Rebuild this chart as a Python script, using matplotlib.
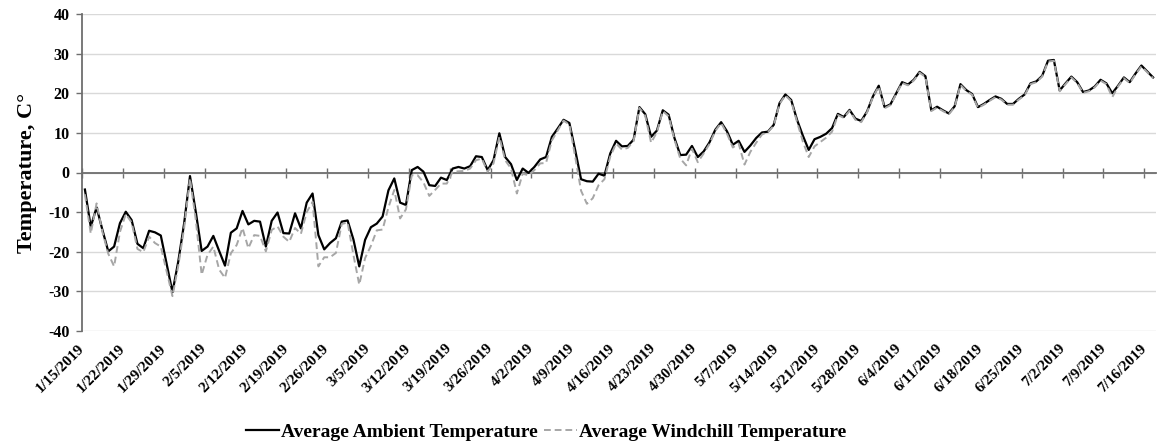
import datetime as dt
import matplotlib
matplotlib.use("Agg")
import matplotlib.pyplot as plt

plt.rcParams['font.family'] = ['Liberation Serif', 'DejaVu Serif']
plt.rcParams['font.weight'] = 'bold'

start_date = dt.date(2019, 1, 15)

ambient = [
    -4.3, -13.7, -8.8, -14.5, -19.9, -18.7, -12.8, -9.9, -12.0, -18.0,
    -19.1, -14.7, -15.1, -15.9, -23.0, -30.2, -22.4, -12.8, -0.9, -10.0,
    -19.8, -18.7, -16.0, -19.8, -23.5, -15.2, -14.1, -9.7, -13.1, -12.2,
    -12.4, -18.7, -12.2, -10.1, -15.3, -15.4, -10.3, -14.1, -7.6, -5.3,
    -15.8, -19.4, -17.8, -16.6, -12.4, -12.1, -16.9, -23.7, -17.0, -13.8,
    -12.9, -11.1, -4.5, -1.5, -7.6, -8.2, 0.6, 1.4, 0.2, -3.2,
    -3.4, -1.3, -1.9, 1.0, 1.4, 1.0, 1.6, 4.1, 3.9, 0.6,
    3.1, 9.9, 3.9, 2.1, -1.9, 1.0, -0.1, 1.4, 3.3, 3.9,
    9.0, 11.1, 13.3, 12.5, 5.6, -1.7, -2.2, -2.3, -0.3, -0.8,
    4.8, 8.0, 6.6, 6.7, 8.3, 16.5, 14.7, 9.0, 10.6, 15.7,
    14.6, 8.7, 4.4, 4.5, 6.7, 3.9, 5.3, 7.6, 10.8, 12.7,
    10.4, 7.0, 8.0, 5.2, 6.8, 8.7, 10.1, 10.3, 12.0, 17.5,
    19.7, 18.3, 13.3, 9.3, 5.7, 8.4, 9.0, 9.8, 11.2, 14.8,
    14.0, 15.8, 13.6, 13.0, 15.4, 19.2, 21.9, 16.5, 17.2, 20.0,
    22.8, 22.2, 23.4, 25.4, 24.3, 15.7, 16.6, 15.7, 14.9, 16.7,
    22.3, 20.8, 19.8, 16.5, 17.3, 18.3, 19.2, 18.6, 17.3, 17.3,
    18.6, 19.7, 22.5, 23.0, 24.4, 28.2, 28.4, 20.7, 22.5, 24.2,
    22.8, 20.3, 20.7, 21.7, 23.4, 22.5, 20.0, 21.9, 24.0, 22.8,
    25.0, 27.0, 25.5, 24.0,
]

windchill = [
    -5.5, -15.4, -7.8, -15.0, -20.5, -23.7, -15.0, -10.5, -12.6, -19.3,
    -20.1, -16.2, -17.8, -18.7, -25.0, -31.2, -23.5, -14.0, -1.5, -12.0,
    -25.8, -20.8, -18.7, -24.5, -26.6, -20.4, -18.3, -14.0, -19.1, -15.8,
    -16.0, -19.9, -14.5, -13.6, -16.2, -17.5, -14.0, -15.5, -10.0, -7.4,
    -23.7, -21.4, -21.4, -20.3, -13.0, -12.6, -20.8, -28.3, -21.6, -18.5,
    -14.6, -14.4, -8.8, -4.4, -11.6, -9.3, -0.7, -0.7, -2.5, -5.9,
    -4.4, -2.8, -2.8, 0.2, 0.3, 0.4, 1.0, 3.1, 3.5, 0.2,
    2.3, 9.0, 3.1, 1.0, -5.3, -0.3, -0.7, 0.6, 2.3, 2.4,
    8.1, 10.6, 13.1, 12.1, 3.9, -4.6, -7.9, -6.5, -3.2, -1.7,
    4.0, 7.3, 5.8, 6.2, 7.9, 16.3, 14.3, 7.5, 10.2, 15.5,
    14.2, 8.3, 3.5, 1.8, 6.0, 2.6, 4.8, 7.2, 10.5, 12.5,
    9.8, 6.3, 7.3, 2.0, 5.2, 7.5, 9.6, 10.2, 11.8, 17.3,
    19.5, 18.0, 12.8, 7.8, 3.9, 6.6, 7.7, 8.8, 10.3, 14.5,
    13.8, 15.6, 13.3, 12.7, 15.2, 19.0, 21.7, 16.2, 17.0, 19.8,
    22.6, 22.0, 23.2, 25.2, 24.1, 15.5, 16.4, 15.5, 14.7, 16.5,
    22.1, 20.6, 19.6, 16.3, 17.1, 18.1, 19.0, 18.4, 17.1, 17.1,
    18.4, 19.5, 22.3, 22.8, 24.2, 28.0, 28.2, 20.5, 22.3, 24.0,
    22.6, 20.1, 20.5, 21.5, 23.2, 22.3, 19.0, 21.7, 23.8, 22.6,
    24.8, 26.8, 25.3, 23.8,
]

n_days = len(ambient)
dates = [start_date + dt.timedelta(days=i) for i in range(n_days)]
tick_idx = list(range(0, n_days, 7))
tick_labels = [f"{dates[i].month}/{dates[i].day}/{dates[i].year}" for i in tick_idx]
y_ticks = [-40, -30, -20, -10, 0, 10, 20, 30, 40]

fig = plt.figure(figsize=(11.59, 4.46), dpi=100)
ax = fig.add_axes([82/1159, 1 - 331/446, (1156 - 82)/1159, (331 - 14)/446])

x = [i + 0.5 for i in range(n_days)]
ax.plot(x, ambient, color='black', lw=1.6, label='Average Ambient Temperature', zorder=3)
ax.plot(x, windchill, color='#a6a6a6', lw=1.4, ls=(0, (3.5, 2)),
        label='Average Windchill Temperature', zorder=4)

ax.set_xlim(0, n_days)
ax.set_ylim(-40, 40)
ax.set_yticks(y_ticks)
ax.set_yticklabels([str(v) for v in y_ticks], fontsize=11.5, fontweight='bold')
ax.grid(axis='y', color='#d9d9d9', lw=1.0, zorder=0)
ax.set_axisbelow(True)

for s in ['top', 'right']:
    ax.spines[s].set_visible(False)
ax.spines['left'].set_color('#6e6e6e')
ax.spines['left'].set_linewidth(1.3)
ax.spines['bottom'].set_position(('data', 0))
ax.spines['bottom'].set_color('#6e6e6e')
ax.spines['bottom'].set_linewidth(1.3)
ax.spines['bottom'].set_zorder(2)

ax.set_xticks(tick_idx)
ax.tick_params(axis='x', direction='inout', length=7, width=1.0, color='#6e6e6e',
               labelbottom=False)
ax.tick_params(axis='y', direction='out', length=4, width=1.0, color='#6e6e6e', pad=5)

sec = ax.secondary_xaxis('bottom')
sec.set_xticks(tick_idx)
sec.set_xticklabels(tick_labels, rotation=45, ha='right', va='center',
                    rotation_mode='anchor', fontsize=11, fontweight='bold')
sec.tick_params(length=0, pad=11)
sec.spines['bottom'].set_visible(False)

ax.set_ylabel('Temperature, C°', fontsize=16, fontweight='bold', labelpad=8)

leg = fig.legend(loc='center', bbox_to_anchor=(0.471, 1 - 432/446),
                 ncol=2, frameon=False, handlelength=1.7,
                 handletextpad=0.1, columnspacing=0.3,
                 prop={'weight': 'bold', 'size': 14})

fig.savefig('out.png', dpi=100)
